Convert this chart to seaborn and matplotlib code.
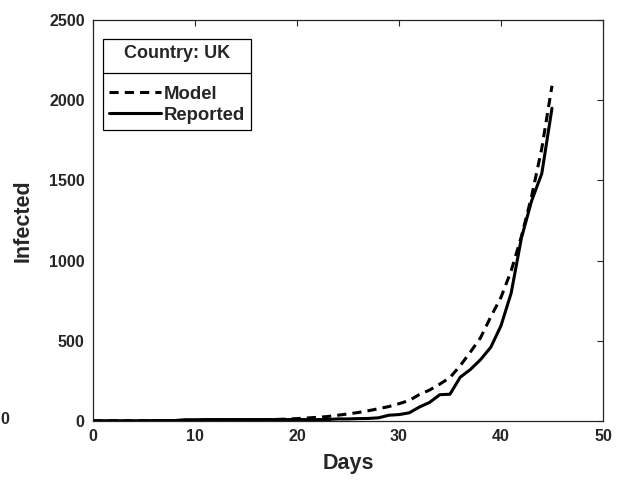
import numpy as np
import pandas as pd
import seaborn as sns
import matplotlib.pyplot as plt
from matplotlib.lines import Line2D

# Values
days = list(range(0, 46))
reported = [2, 2, 2, 2, 2, 2, 3, 3, 3, 8,
            8, 9, 9, 9, 9, 9, 9, 9, 9, 9,
            9, 9, 9, 9, 13, 13, 15, 16, 20, 36,
            40, 51, 87, 116, 164, 167, 273, 321, 383, 460,
            594, 798, 1140, 1372, 1543, 1950]
model = [1, 1, 1, 1, 1, 2, 2, 2, 3, 3,
         4, 4, 5, 5, 6, 7, 8, 9, 10, 12,
         15, 19, 23, 28, 36, 44, 53, 64, 77, 90,
         108, 128, 165, 193, 230, 271, 345, 430, 520, 650,
         771, 937, 1150, 1400, 1700, 2090]

df = pd.concat([
    pd.DataFrame({"Days": days, "Infected": model, "series": "Model"}),
    pd.DataFrame({"Days": days, "Infected": reported, "series": "Reported"}),
])

sns.set_style("white")
plt.rcParams['font.family'] = ['Liberation Sans', 'DejaVu Sans']
plt.rcParams['font.weight'] = 'bold'

fig = plt.figure(figsize=(6.27, 4.87), dpi=100)
ax = fig.add_axes([0.1483, 0.1355, 0.8134, 0.8234])

sns.lineplot(data=df, x="Days", y="Infected", style="series",
             dashes={"Model": (3, 2), "Reported": ""},
             color="black", linewidth=2.2, ax=ax, legend=False)

ax.set_xlim(0, 50)
ax.set_ylim(0, 2500)
ax.set_xticks([0, 10, 20, 30, 40, 50])
ax.set_yticks([0, 500, 1000, 1500, 2000, 2500])
ax.tick_params(direction="in", length=4, width=0.8, labelsize=11.5, pad=6,
               colors="#262626", top=True, right=True)
for lab in ax.get_xticklabels() + ax.get_yticklabels():
    lab.set_fontweight("bold")
for s in ax.spines.values():
    s.set_visible(True)
    s.set_color("#262626")
    s.set_linewidth(0.9)
ax.set_xlabel("Days", fontsize=15.5, fontweight="bold", color="#262626", labelpad=6)
ax.set_ylabel("Infected", fontsize=15.5, fontweight="bold", color="#262626", labelpad=11)

handles = [Line2D([], [], color="black", lw=2.2, dashes=(3, 2)),
           Line2D([], [], color="black", lw=2.2)]
leg = ax.legend(handles, ["Model", "Reported"], title="Country: UK",
                loc="upper left", bbox_to_anchor=(0.019, 0.953),
                fancybox=False, edgecolor="black", framealpha=1,
                fontsize=13.3, title_fontproperties={"weight": "bold", "size": 13},
                handlelength=2.8, handletextpad=0.15, borderpad=0.35,
                labelspacing=0.2, borderaxespad=0)
leg.get_frame().set_linewidth(0.9)
for t in leg.get_texts():
    t.set_fontweight("bold")
# wider gap between the title and the entries
leg._legend_box.sep = 17

# separator line under the legend title
fig.canvas.draw()
inv = fig.transFigure.inverted()
lb = leg.get_window_extent()
tb = leg.get_title().get_window_extent()
eb = leg.get_texts()[0].get_window_extent()
ysep = (tb.y0 + eb.y1) / 2 + 1
(x0, y0), (x1, y1) = inv.transform([(lb.x0, ysep), (lb.x1, ysep)])
fig.add_artist(Line2D([x0, x1], [y0, y1], color="black", lw=0.9,
                      transform=fig.transFigure))

# label from neighbouring panel at left edge
fig.text(0.0, 1 - 420 / 487, "0", ha="left", va="center", fontsize=11.5,
         fontweight="bold", color="#262626")

fig.savefig("out.png", dpi=100)
